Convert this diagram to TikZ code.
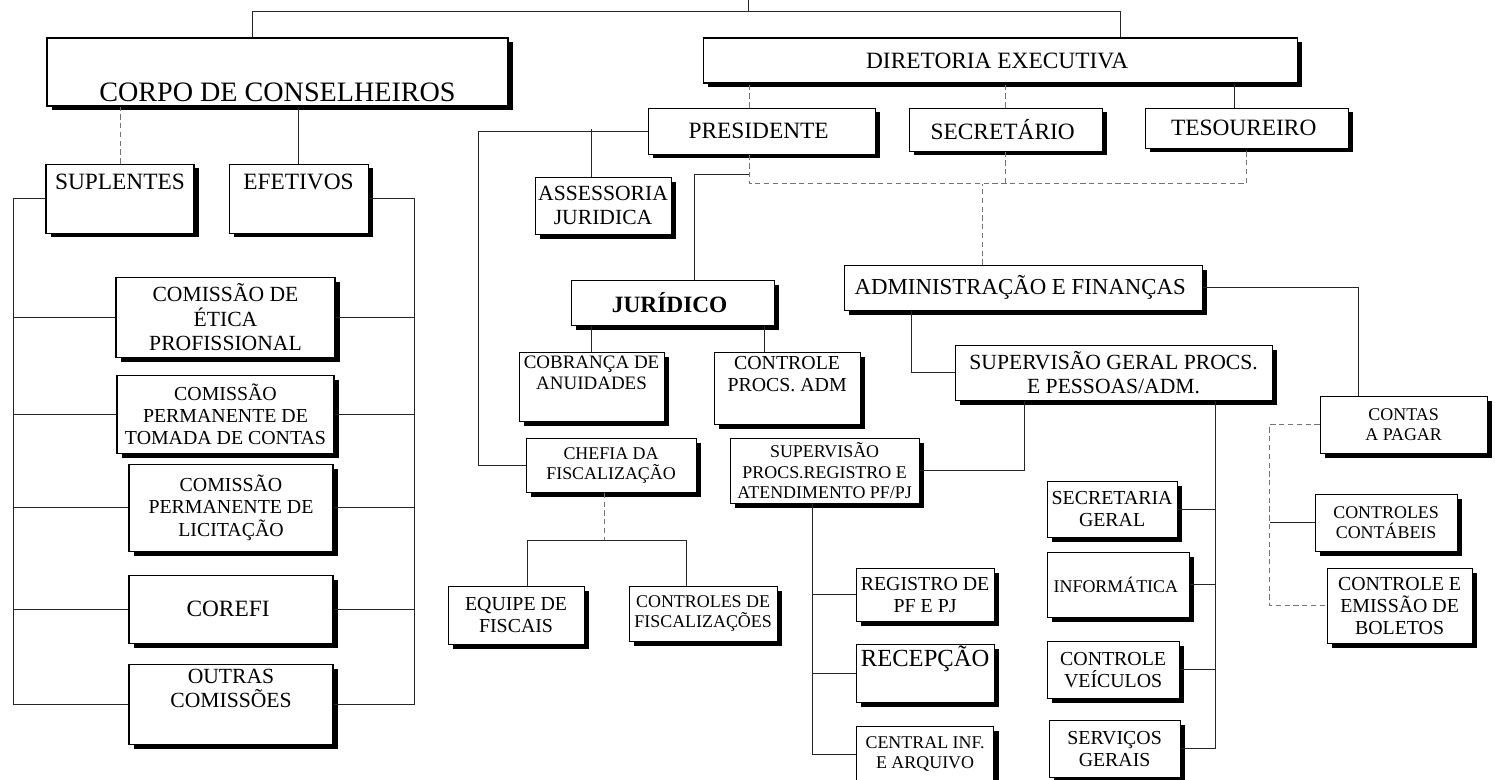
\documentclass[tikz,border=0pt]{standalone}
\usepackage{fontspec}
\setmainfont{Liberation Serif}
\usetikzlibrary{positioning,shadows}

\begin{document}
\begin{tikzpicture}[font=\fontsize{11.3}{12.6}\selectfont,
    box/.style={draw, fill=white, line width=0.6pt, align=center, inner sep=1pt,
        drop shadow={shadow xshift=3pt, shadow yshift=-2.5pt, fill=black, opacity=1}},
    bigfont/.style={font=\fontsize{16}{20}\selectfont},
    headfont/.style={font=\fontsize{13.3}{14.9}\selectfont},
    midfont/.style={font=\fontsize{12.3}{13.8}\selectfont},
    smallfont/.style={font=\fontsize{10.2}{11.5}\selectfont},
    link/.style={draw=black!85, line width=0.5pt},
    faint/.style={draw=black!55, line width=0.5pt, densely dashed}]

    \useasboundingbox (0,0) rectangle (29.9,-15.58);

    \node[box, bigfont, minimum width=9.22cm, minimum height=1.36cm] (corpo) at (5.55,-1.44)
    { \strut\\CORPO DE CONSELHEIROS };

    \node[box, headfont, minimum width=2.96cm, minimum height=1.38cm, below=1.14cm of corpo, xshift=-3.15cm] (suplentes)
    { SUPLENTES\\\strut };

    \node[box, headfont, minimum width=2.78cm, minimum height=1.38cm, right=0.68cm of suplentes] (efetivos)
    { EFETIVOS\\\strut };

    \node[box, midfont, minimum width=4.38cm, minimum height=1.6cm, below=0.86cm of suplentes, xshift=2.11cm] (etica)
    { COMISSÃO DE\\ÉTICA\\PROFISSIONAL };

    \node[box, minimum width=4.34cm, minimum height=1.56cm, below=0.34cm of etica] (tomada)
    { COMISSÃO\\PERMANENTE DE\\TOMADA DE CONTAS };

    \node[box, minimum width=4.08cm, minimum height=1.74cm, below=0.2cm of tomada, xshift=0.11cm] (licitacao)
    { COMISSÃO\\PERMANENTE DE\\LICITAÇÃO };

    \node[box, headfont, minimum width=4.08cm, minimum height=1.36cm, below=0.46cm of licitacao] (corefi)
    { COREFI };

    \node[box, midfont, minimum width=4.08cm, minimum height=1.6cm, below=0.4cm of corefi] (outras)
    { OUTRAS\\COMISSÕES\\\strut };

    % ---------------------------------------------------------

    \node[box, headfont, minimum width=11.88cm, minimum height=0.9cm, right=3.88cm of corpo.north east, anchor=north west] (diretoria)
    { DIRETORIA EXECUTIVA };

    \node[box, headfont, minimum width=4.54cm, minimum height=0.92cm, below=0.48cm of diretoria, xshift=-4.77cm] (presidente)
    { PRESIDENTE };

    \node[box, headfont, minimum width=3.86cm, minimum height=0.86cm, right=0.66cm of presidente.north east, anchor=north west] (secretario)
    { SECRETÁRIO };

    \node[box, headfont, minimum width=4.06cm, minimum height=0.8cm, right=0.84cm of secretario.north east, anchor=north west] (tesoureiro)
    { TESOUREIRO };

    \node[box, midfont, minimum width=2.72cm, minimum height=1.14cm, below=0.44cm of presidente, xshift=-3.17cm] (assessoria)
    { ASSESSORIA\\JURIDICA };

    \node[box, headfont, minimum width=4.06cm, minimum height=0.9cm, below=0.9cm of assessoria, xshift=1.39cm] (juridico)
    { \textbf{JURÍDICO} };

    \node[box, font=\fontsize{10.8}{12.2}\selectfont, minimum width=2.9cm, minimum height=1.38cm, below=0.52cm of juridico, xshift=-1.62cm] (cobranca)
    { COBRANÇA DE\\ANUIDADES\\\strut };

    \node[box, minimum width=2.92cm, minimum height=1.44cm, right=0.98cm of cobranca.north east, anchor=north west] (procadm)
    { CONTROLE\\PROCS. ADM\\\strut };

    \node[box, smallfont, minimum width=3.4cm, minimum height=1.08cm, below=0.32cm of cobranca, xshift=0.39cm] (chefia)
    { CHEFIA DA\\FISCALIZAÇÃO };

    \node[box, minimum width=2.72cm, minimum height=1.16cm, below=1.86cm of chefia, xshift=-1.9cm] (equipe)
    { EQUIPE DE\\FISCAIS };

    \node[box, smallfont, minimum width=2.96cm, minimum height=1.1cm, right=0.88cm of equipe.north east, anchor=north west] (ctrlfisc)
    { CONTROLES DE\\FISCALIZAÇÕES };

    \node[box, smallfont, minimum width=3.78cm, minimum height=1.3cm, below=0.26cm of procadm, xshift=0.75cm] (supprocs)
    { SUPERVISÃO\\PROCS.REGISTRO E\\ATENDIMENTO PF/PJ };

    \node[box, minimum width=2.76cm, minimum height=1.06cm, below=1.28cm of supprocs, xshift=2.01cm] (registro)
    { REGISTRO DE\\PF E PJ };

    \node[box, font=\fontsize{14}{15}\selectfont, minimum width=2.76cm, minimum height=1.1cm, below=0.44cm of registro] (recepcao)
    { RECEPÇÃO\\\strut };

    \node[box, smallfont, minimum width=2.74cm, minimum height=1.1cm, below=0.46cm of recepcao] (central)
    { CENTRAL INF.\\E ARQUIVO };

    % ---------------------------------------------------------

    \node[box, font=\fontsize{13}{14.5}\selectfont, minimum width=7.16cm, minimum height=0.9cm, below=2.26cm of secretario, xshift=0.35cm] (adm)
    { ADMINISTRAÇÃO E FINANÇAS };

    \node[box, midfont, minimum width=6.34cm, minimum height=1.1cm, below=0.68cm of adm, xshift=1.81cm] (supgeral)
    { SUPERVISÃO GERAL PROCS.\\E PESSOAS/ADM. };

    \node[box, minimum width=2.6cm, minimum height=1.12cm, below=1.6cm of supgeral, xshift=-0.03cm] (secgeral)
    { SECRETARIA\\GERAL };

    \node[box, smallfont, minimum width=2.84cm, minimum height=1.3cm, below=0.28cm of secgeral, xshift=0.12cm] (informatica)
    { INFORMÁTICA };

    \node[box, minimum width=2.64cm, minimum height=1.14cm, below=0.46cm of informatica, xshift=-0.1cm] (veiculos)
    { CONTROLE\\VEÍCULOS };

    \node[box, minimum width=2.62cm, minimum height=1.14cm, below=0.42cm of veiculos, xshift=0.03cm] (servicos)
    { SERVIÇOS\\GERAIS };

    \node[box, smallfont, minimum width=3.34cm, minimum height=1.14cm, below=1.7cm of adm, xshift=7.61cm] (contas)
    { CONTAS\\A PAGAR };

    \node[box, smallfont, minimum width=2.84cm, minimum height=1.14cm, below=0.8cm of contas, xshift=-0.35cm] (contabeis)
    { CONTROLES\\CONTÁBEIS };

    \node[box, minimum width=2.9cm, minimum height=1.5cm, below=0.32cm of contabeis, xshift=0.27cm] (emissao)
    { CONTROLE E\\EMISSÃO DE\\BOLETOS };

    % ---------------------------------------------------------
    % connectors

    \coordinate (top) at (14.96,0);
    \draw[link] ([xshift=-0.51cm]corpo.north) -- ++(0,0.52) coordinate (topbar) -| ([xshift=2.4cm]diretoria.north);
    \draw[link] (top) -- (top |- topbar);

    \draw[faint] (suplentes.north) -- (suplentes.north |- corpo.south);
    \draw[link] (efetivos.north) -- (efetivos.north |- corpo.south);

    \draw[link] (suplentes.west) -- ++(-0.64,0) coordinate (sbus) |- (outras.west);
    \draw[link] (etica.west) -- (etica.west -| sbus);
    \draw[link] (tomada.west) -- (tomada.west -| sbus);
    \draw[link] (licitacao.west) -- (licitacao.west -| sbus);
    \draw[link] (corefi.west) -- (corefi.west -| sbus);

    \draw[link] (efetivos.east) -- ++(0.92,0) coordinate (ebus) |- (outras.east);
    \draw[link] (etica.east) -- (etica.east -| ebus);
    \draw[link] (tomada.east) -- (tomada.east -| ebus);
    \draw[link] (licitacao.east) -- (licitacao.east -| ebus);
    \draw[link] (corefi.east) -- (corefi.east -| ebus);

    % ---------------------------------------------------------

    \draw[faint] ([xshift=-0.25cm]presidente.north) -- ++(0,0.48);
    \draw[faint] (secretario.north) -- (secretario.north |- diretoria.south);
    \draw[link] ([xshift=-0.25cm]tesoureiro.north) -- ++(0,0.48);

    \draw[faint] ([xshift=-0.25cm]presidente.south) -- ++(0,-0.58) coordinate (pbus) -| (tesoureiro.south);
    \draw[faint] (secretario.south) -- (secretario.south |- pbus);
    \draw[faint] ([xshift=-0.82cm]adm.north) -- ++(0,1.62);

    \draw[link] ([xshift=-0.25cm]presidente.south) ++(0,-0.4) -| ([xshift=0.43cm]juridico.north);
    \draw[link] (presidente.west) -- ++(-3.38,0) |- (chefia.west);
    \draw[link] ([xshift=-0.24cm]assessoria.north) -- ++(0,0.96);

    \draw[link] (cobranca.north) -- (cobranca.north |- juridico.south);
    \draw[link] ([xshift=-0.46cm]procadm.north) -- ++(0,0.52);

    \draw[faint] ([xshift=-0.14cm]chefia.south) -- ++(0,-0.96) coordinate (cbus);
    \draw[link] ([xshift=0.22cm]equipe.north) |- (cbus) -| ([xshift=-0.34cm]ctrlfisc.north);

    \draw[link] ([xshift=-1.79cm]supgeral.south) |- (supprocs.east);
    \draw[link] ([xshift=-0.25cm]supprocs.south) coordinate (sp) |- (central.west);
    \draw[link] (registro.west) -- (registro.west -| sp);
    \draw[link] (recepcao.west) -- (recepcao.west -| sp);

    % ---------------------------------------------------------

    \draw[link] ([xshift=-2.24cm]adm.south) |- (supgeral.west);
    \draw[link] (adm.east) -| ([xshift=-0.91cm]contas.north);

    \draw[link] ([xshift=2.03cm]supgeral.south) coordinate (sg) |- (servicos.east);
    \draw[link] (secgeral.east) -- (secgeral.east -| sg);
    \draw[link] (informatica.east) -- (informatica.east -| sg);
    \draw[link] (veiculos.east) -- (veiculos.east -| sg);

    \draw[faint] (contas.west) -- ++(-1.0,0) coordinate (cw) |- (emissao.west);
    \draw[link] (contabeis.west) -- (contabeis.west -| cw);
\end{tikzpicture}
\end{document}
